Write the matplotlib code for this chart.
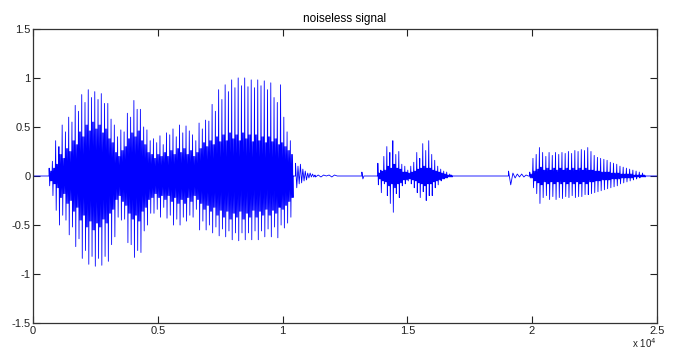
import numpy as np
import matplotlib
matplotlib.use("Agg")
import matplotlib.pyplot as plt

plt.rcParams['font.family'] = ['Liberation Sans', 'DejaVu Sans']

n_samples = 25000

# first voiced stretch: per pitch pulse, top peak, bottom peak and inner ringing
seg_a_span = (640, 10420)
seg_a_hi = [0.08, 0.15, 0.36, 0.30, 0.52, 0.45, 0.60, 0.55, 0.72, 0.66,
            0.83, 0.75, 0.88, 0.80, 0.86, 0.78, 0.84, 0.74, 0.74, 0.58,
            0.52, 0.40, 0.47, 0.45, 0.64, 0.60, 0.77, 0.68, 0.68, 0.50,
            0.47, 0.36, 0.38, 0.34, 0.41, 0.32, 0.44, 0.42, 0.48, 0.40,
            0.52, 0.44, 0.51, 0.46, 0.42, 0.36, 0.54, 0.48, 0.57, 0.56,
            0.73, 0.66, 0.88, 0.78, 0.93, 0.86, 0.98, 0.90, 1.00, 0.92,
            1.00, 0.91, 0.98, 0.90, 0.98, 0.92, 0.97, 0.88, 0.95, 0.80,
            0.75, 0.93, 0.60, 0.45, 0.36]
seg_a_lo = [-0.10, -0.20, -0.35, -0.50, -0.40, -0.45, -0.60, -0.52, -0.72, -0.64,
            -0.84, -0.76, -0.90, -0.82, -0.92, -0.84, -0.91, -0.82, -0.87, -0.70,
            -0.62, -0.42, -0.45, -0.44, -0.68, -0.70, -0.83, -0.76, -0.78, -0.56,
            -0.50, -0.38, -0.38, -0.34, -0.42, -0.32, -0.43, -0.40, -0.50, -0.44,
            -0.50, -0.42, -0.46, -0.40, -0.42, -0.34, -0.55, -0.46, -0.55, -0.50,
            -0.58, -0.52, -0.61, -0.54, -0.62, -0.56, -0.65, -0.58, -0.66, -0.58,
            -0.65, -0.58, -0.65, -0.56, -0.65, -0.56, -0.62, -0.54, -0.62, -0.52,
            -0.63, -0.50, -0.53, -0.48, -0.42]
seg_a_core = [0.05, 0.08, 0.12, 0.22, 0.18, 0.28, 0.25, 0.36, 0.32, 0.45,
              0.40, 0.52, 0.46, 0.55, 0.48, 0.52, 0.44, 0.48, 0.38, 0.34,
              0.24, 0.20, 0.26, 0.30, 0.38, 0.44, 0.40, 0.46, 0.36, 0.32,
              0.24, 0.22, 0.18, 0.22, 0.20, 0.24, 0.20, 0.26, 0.22, 0.28,
              0.24, 0.28, 0.22, 0.26, 0.20, 0.24, 0.28, 0.34, 0.30, 0.36,
              0.32, 0.40, 0.35, 0.42, 0.36, 0.44, 0.38, 0.42, 0.36, 0.44,
              0.38, 0.42, 0.35, 0.42, 0.36, 0.40, 0.34, 0.40, 0.35, 0.38,
              0.32, 0.34, 0.30, 0.26, 0.22]

# decaying ringing after the first stretch
tail_a_span = (10520, 11300)
tail_a = [0.13, -0.12, 0.10, -0.08, 0.12, -0.07, 0.07, -0.05, 0.05, -0.04,
          0.03, -0.02, 0.03, -0.01, 0.02, -0.01, 0.01]
hiss_a_span = (11320, 12300)
hiss_a = [-0.01, 0.01, -0.01, 0.01, 0.0, 0.01, -0.01, 0.01, 0.0, 0.0]

click_b_span = (13180, 13260)
click_b = [0.04, -0.03, 0.0]

# second voiced stretch
seg_b_span = (13820, 16800)
seg_b_hi = [0.13, 0.06, 0.20, 0.30, 0.24, 0.36, 0.22, 0.25, 0.12, 0.10,
            0.06, 0.10, 0.14, 0.24, 0.18, 0.33, 0.26, 0.36, 0.22, 0.16,
            0.10, 0.07, 0.05, 0.04, 0.02]
seg_b_lo = [-0.09, -0.17, -0.08, -0.20, -0.28, -0.37, -0.18, -0.22, -0.10, -0.08,
            -0.05, -0.08, -0.12, -0.17, -0.22, -0.16, -0.25, -0.20, -0.20, -0.12,
            -0.09, -0.05, -0.03, -0.02, -0.01]
seg_b_core = [0.03, 0.05, 0.06, 0.10, 0.08, 0.12, 0.08, 0.07, 0.04, 0.04,
              0.03, 0.04, 0.05, 0.07, 0.08, 0.10, 0.08, 0.08, 0.06, 0.05,
              0.04, 0.03, 0.02, 0.01, 0.01]

click_c_span = (19060, 19850)
click_c = [0.05, -0.09, 0.03, -0.02, 0.02, -0.01, 0.02, -0.01, 0.01, 0.0]

# third voiced stretch
seg_c_span = (19910, 24540)
seg_c_hi = [0.04, 0.18, 0.22, 0.29, 0.24, 0.20, 0.24, 0.21, 0.24, 0.22,
            0.24, 0.23, 0.25, 0.23, 0.26, 0.25, 0.27, 0.26, 0.29, 0.25,
            0.21, 0.19, 0.18, 0.17, 0.16, 0.14, 0.13, 0.12, 0.10, 0.09,
            0.08, 0.07, 0.06, 0.05, 0.04, 0.03]
seg_c_lo = [-0.02, -0.12, -0.18, -0.28, -0.22, -0.20, -0.24, -0.21, -0.24, -0.22,
            -0.23, -0.21, -0.22, -0.20, -0.22, -0.21, -0.21, -0.19, -0.19, -0.18,
            -0.17, -0.16, -0.15, -0.14, -0.13, -0.12, -0.11, -0.10, -0.08, -0.07,
            -0.06, -0.05, -0.04, -0.03, -0.02, -0.01]
seg_c_core = [0.02, 0.05, 0.07, 0.09, 0.06, 0.08, 0.06, 0.08, 0.06, 0.08,
              0.06, 0.08, 0.06, 0.08, 0.06, 0.08, 0.06, 0.08, 0.06, 0.06,
              0.05, 0.05, 0.04, 0.04, 0.04, 0.03, 0.03, 0.03, 0.02, 0.02,
              0.02, 0.02, 0.01, 0.01, 0.01, 0.01]

x_ticks = [0, 5000, 10000, 15000, 20000, 25000]
x_labels = ['0', '0.5', '1', '1.5', '2', '2.5']
y_ticks = [-1.5, -1, -0.5, 0, 0.5, 1, 1.5]
y_labels = ['-1.5', '-1', '-0.5', '0', '0.5', '1', '1.5']


def pulses(span, hi, lo, core):
    # each pulse: main swing up and down, then two smaller rings
    vals = []
    for h, l, c in zip(hi, lo, core):
        vals += [h, l, c, -c, c, -c]
    x = np.linspace(span[0], span[1], len(vals))
    return x, np.array(vals)


def ring(span, vals):
    return np.linspace(span[0], span[1], len(vals)), np.array(vals)


parts = [
    pulses(seg_a_span, seg_a_hi, seg_a_lo, seg_a_core),
    ring(tail_a_span, tail_a),
    ring(hiss_a_span, hiss_a),
    ring(click_b_span, click_b),
    pulses(seg_b_span, seg_b_hi, seg_b_lo, seg_b_core),
    ring(click_c_span, click_c),
    pulses(seg_c_span, seg_c_hi, seg_c_lo, seg_c_core),
]

xs = [np.array([0.0])]
ys = [np.array([0.0])]
for px, py in parts:
    xs += [np.array([px[0] - 1]), px, np.array([px[-1] + 1])]
    ys += [np.array([0.0]), py, np.array([0.0])]
xs.append(np.array([float(n_samples)]))
ys.append(np.array([0.0]))
t = np.concatenate(xs)
sig = np.concatenate(ys)

fig = plt.figure(figsize=(6.77, 3.52), dpi=100)
ax = fig.add_axes([0.049, 0.082, 0.921, 0.836])
ax.plot(t, sig, color=(0, 0, 1), lw=0.6)

ax.set_xlim(0, n_samples)
ax.set_ylim(-1.5, 1.5)
ax.set_xticks(x_ticks)
ax.set_xticklabels(x_labels)
ax.set_yticks(y_ticks)
ax.set_yticklabels(y_labels)
ax.tick_params(direction='in', length=5, width=0.8, labelsize=8,
               top=True, right=True, colors='#222222', pad=2)
for sp in ax.spines.values():
    sp.set_color('#333333')
    sp.set_linewidth(0.9)

ax.set_title('noiseless signal', fontsize=8.5, pad=5)
ax.text(1.0, -0.068, r'x 10$^4$', transform=ax.transAxes, ha='right',
        va='center', fontsize=7, color='#222222')

fig.savefig('out.png', dpi=100)
